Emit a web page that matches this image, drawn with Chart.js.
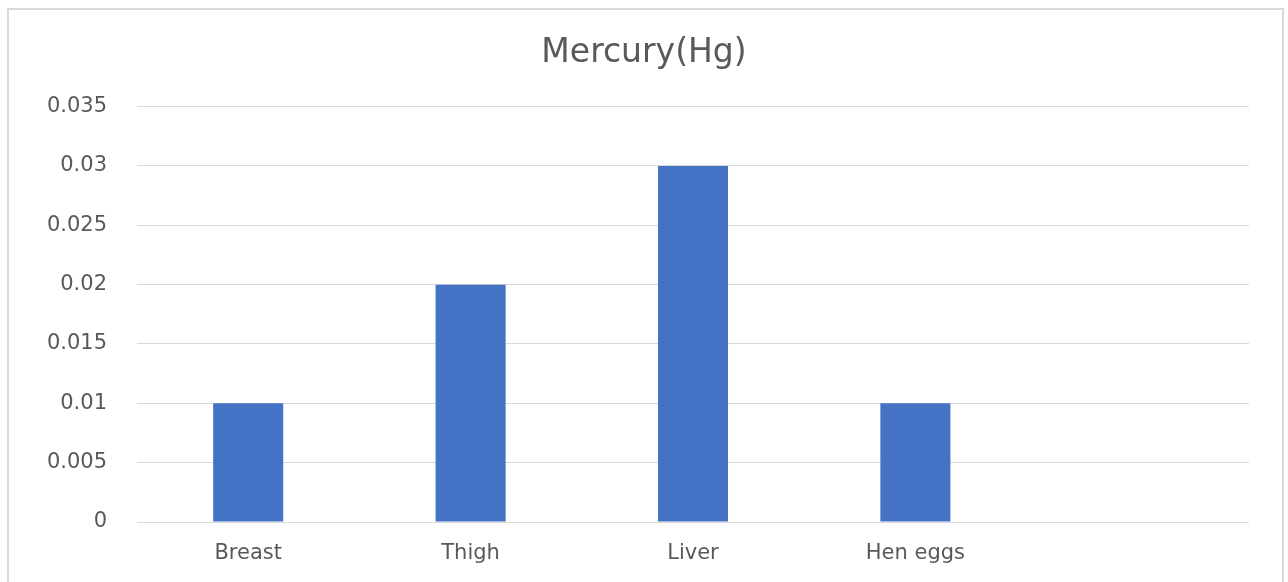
<!DOCTYPE html>
<html>
<head>
<meta charset="utf-8">
<script src="https://cdn.jsdelivr.net/npm/chart.js@4"></script>
<style>
  html, body { margin: 0; padding: 0; background: #fff; }
  #frame {
    position: absolute; left: 7px; top: 8px; width: 1277px; height: 590px;
    border: 2px solid #d9d9d9; box-sizing: border-box;
  }
  #wrap { position: absolute; left: 0; top: 0; width: 1288px; height: 582px; }
</style>
</head>
<body>
<div id="frame"></div>
<div id="wrap"><canvas id="chart" width="1288" height="582"></canvas></div>
<script>
// Mercury chart
const categories = ["Breast", "Thigh", "Liver", "Hen eggs", ""];
const mercury = [0.01, 0.02, 0.03, 0.01, null];
const yTicks = [0, 0.005, 0.01, 0.015, 0.02, 0.025, 0.03, 0.035];

const textColor = "#595959";
const font = "'DejaVu Sans', sans-serif";

new Chart(document.getElementById("chart"), {
    type: "bar",
    data: {
        labels: categories,
        datasets: [{
            label: "Mercury(Hg)",
            data: mercury,
            backgroundColor: "#4472c4",
            categoryPercentage: 1,
            barPercentage: 0.315
        }]
    },
    options: {
        responsive: false,
        animation: false,
        layout: { padding: { left: 39, right: 39, top: 0, bottom: 0 } },
        plugins: {
            legend: { display: false },
            tooltip: { enabled: false },
            title: {
                display: true,
                text: "Mercury(Hg)",
                color: textColor,
                font: { family: font, size: 33, weight: "normal", lineHeight: 1.2 },
                padding: { top: 34, bottom: 33 }
            }
        },
        scales: {
            x: {
                grid: { display: false, drawTicks: false },
                border: { display: false },
                ticks: { color: textColor, padding: 19, font: { family: font, size: 21 } },
                afterFit: (s) => { s.height = 60; }
            },
            y: {
                min: 0,
                max: 0.035,
                afterBuildTicks: (s) => { s.ticks = yTicks.map(v => ({ value: v })); },
                grid: { color: "#d9d9d9", lineWidth: 1, drawTicks: false },
                border: { display: false },
                ticks: {
                    color: textColor,
                    padding: 30,
                    font: { family: font, size: 21 },
                    callback: (v) => String(v)
                },
                afterFit: (s) => { s.width = 98; }
            }
        }
    }
});
</script>
</body>
</html>
